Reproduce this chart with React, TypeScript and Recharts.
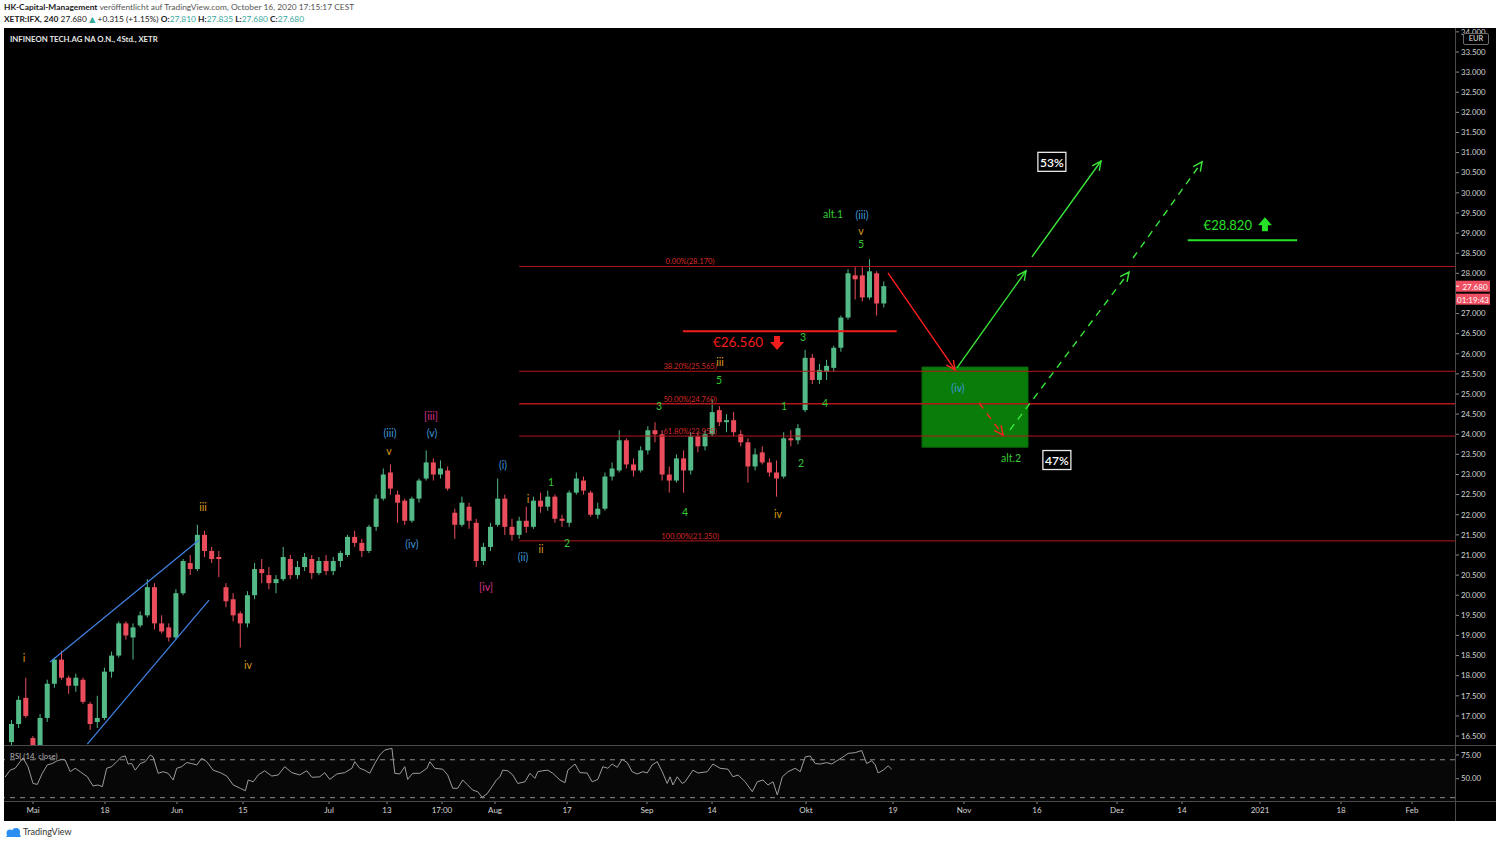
import React from 'react';
import {
  ComposedChart,
  LineChart,
  Line,
  Bar,
  XAxis,
  YAxis,
  ReferenceLine,
  ReferenceArea,
  ReferenceDot,
} from 'recharts';

const FONT = 'Lato, "Open Sans", "DejaVu Sans", sans-serif';
const UP = '#53b987';
const DOWN = '#eb4d5c';
const AXIS_TEXT = '#d4d4d4';
const SEP = '#4a4a4a';

// ---------- candles (one per trading day, index 0 = 4 May 2020) ----------
const candleDays = [
  -3, -2, -1, 0, 1, 2, 3, 4, 5, 6,
  7, 8, 9, 10, 11, 12, 13, 14, 15, 16,
  17, 18, 19, 20, 21, 22, 23, 24, 25, 26,
  27, 28, 29, 30, 31, 32, 33, 34, 35, 36,
  37, 38, 39, 40, 41, 42, 43, 44, 45, 46,
  47, 48, 49, 50, 51, 52, 53, 54, 55, 56,
  57, 58, 59, 60, 61, 62, 63, 64, 65, 66,
  67, 68, 69, 70, 71, 72, 73, 74, 75, 76,
  77, 78, 79, 80, 81, 82, 83, 84, 85, 86,
  87, 88, 89, 90, 91, 92, 93, 94, 95, 96,
  97, 98, 99, 100, 101, 102, 103, 104, 105, 106,
  107, 108, 109, 110, 111, 112, 113, 114, 115, 116,
  117, 118, 119,
];
const opens = [
  16.35, 16.8, 17.45, 16.45, 16.15, 16.95, 17.8, 18.4, 17.95, 17.75,
  17.9, 17.3, 16.85, 16.95, 18.1, 18.5, 19.3, 18.95, 19.25, 19.5,
  20.2, 19.3, 19.2, 18.95, 20.05, 20.8, 20.65, 21.5, 21.1, 20.95,
  20.2, 19.9, 19.55, 19.3, 20.0, 20.65, 20.5, 20.3, 20.4, 20.9,
  20.5, 20.7, 20.9, 20.55, 20.85, 20.6, 20.85, 21.0, 21.45, 21.3,
  21.1, 21.7, 22.4, 23.05, 22.5, 22.35, 21.85, 22.4, 22.9, 23.3,
  23.0, 23.1, 22.05, 21.75, 22.2, 21.8, 20.85, 21.2, 21.75, 22.4,
  21.7, 21.5, 21.85, 21.7, 22.35, 22.2, 22.45, 21.9, 21.8, 22.55,
  22.85, 22.55, 22.0, 22.15, 22.95, 23.1, 23.85, 23.25, 23.1, 23.6,
  24.1, 24.0, 23.0, 22.85, 23.4, 23.1, 23.95, 23.7, 24.0, 24.6,
  24.3, 24.35, 24.0, 23.8, 23.2, 23.55, 23.3, 23.05, 22.95, 23.9,
  23.85, 24.6, 25.9, 25.35, 25.55, 25.65, 26.15, 26.9, 27.95, 27.95,
  27.4, 28.0, 27.25,
];
const highs = [
  16.9, 17.5, 17.95, 16.5, 17.05, 17.9, 18.45, 18.62, 18.0, 18.05,
  17.95, 17.35, 17.5, 18.2, 18.6, 19.35, 19.35, 19.3, 19.6, 20.4,
  20.3, 19.5, 19.3, 20.15, 20.9, 21.0, 21.75, 21.6, 21.2, 21.1,
  20.3, 20.05, 19.6, 20.1, 20.8, 20.9, 20.7, 20.5, 21.2, 21.0,
  20.85, 21.05, 21.0, 20.95, 21.0, 20.95, 21.1, 21.5, 21.6, 21.4,
  21.75, 22.5, 23.15, 23.25, 22.6, 22.4, 22.45, 22.9, 23.6, 23.4,
  23.35, 23.2, 22.15, 22.45, 22.3, 21.9, 21.3, 21.8, 22.9, 22.5,
  21.9, 21.95, 22.2, 22.45, 22.55, 22.6, 22.5, 22.0, 22.6, 23.05,
  22.95, 22.6, 22.3, 23.05, 23.3, 24.1, 23.9, 23.4, 23.7, 24.2,
  24.3, 24.1, 23.2, 23.5, 23.6, 24.05, 24.05, 24.1, 24.87, 24.7,
  24.5, 24.55, 24.1, 23.9, 23.65, 23.7, 23.4, 23.35, 24.05, 24.1,
  24.25, 26.1, 26.0, 25.75, 25.85, 26.2, 26.95, 28.1, 28.15, 28.15,
  28.35, 28.05, 27.8,
];
const lows = [
  16.25, 16.7, 16.95, 15.9, 16.0, 16.85, 17.7, 17.9, 17.55, 17.6,
  17.3, 16.65, 16.7, 16.9, 17.95, 18.45, 18.9, 18.4, 19.2, 19.45,
  19.15, 19.05, 18.85, 18.9, 20.0, 20.5, 20.6, 20.95, 20.8, 20.45,
  19.7, 19.35, 18.7, 19.2, 19.9, 20.3, 20.15, 20.05, 20.35, 20.4,
  20.4, 20.6, 20.4, 20.5, 20.5, 20.5, 20.7, 20.95, 21.2, 20.95,
  21.05, 21.6, 22.35, 22.5, 21.8, 21.75, 21.8, 22.3, 22.85, 22.85,
  22.9, 22.6, 21.4, 21.7, 21.65, 20.7, 20.75, 21.1, 21.7, 21.5,
  21.35, 21.4, 21.55, 21.65, 22.05, 22.1, 21.8, 21.7, 21.7, 22.5,
  22.5, 21.95, 21.9, 22.1, 22.85, 23.05, 23.15, 22.95, 23.05, 23.5,
  23.8, 22.85, 22.55, 22.8, 22.55, 23.0, 23.55, 23.6, 23.95, 24.2,
  24.05, 23.95, 23.7, 22.8, 23.1, 23.25, 22.95, 22.45, 22.9, 23.7,
  23.75, 24.55, 25.25, 25.25, 25.35, 25.55, 26.05, 26.85, 27.35, 27.3,
  27.35, 26.95, 27.15,
];
const closes = [
  16.8, 17.4, 17.0, 16.1, 16.95, 17.8, 18.4, 17.95, 17.75, 17.95,
  17.35, 16.8, 16.95, 18.1, 18.5, 19.3, 19.0, 19.2, 19.5, 20.2,
  19.3, 19.1, 18.95, 20.05, 20.85, 20.65, 21.5, 21.1, 20.9, 20.9,
  19.85, 19.5, 19.3, 20.0, 20.65, 20.55, 20.3, 20.4, 20.95, 20.5,
  20.7, 20.95, 20.55, 20.85, 20.6, 20.85, 21.05, 21.45, 21.3, 21.1,
  21.7, 22.4, 23.0, 22.65, 22.3, 21.85, 22.4, 22.85, 23.3, 23.0,
  23.15, 22.65, 21.75, 22.3, 21.85, 20.85, 21.2, 21.7, 22.4, 21.7,
  21.5, 21.85, 21.7, 22.35, 22.2, 22.45, 21.9, 21.85, 22.55, 22.9,
  22.6, 22.0, 22.15, 22.95, 23.15, 23.85, 23.25, 23.1, 23.6, 24.1,
  24.0, 23.0, 22.85, 23.4, 23.1, 23.95, 23.7, 24.0, 24.55, 24.3,
  24.35, 24.05, 23.8, 23.2, 23.5, 23.3, 23.05, 22.9, 23.9, 23.85,
  24.15, 25.9, 25.35, 25.6, 25.7, 26.15, 26.9, 28.0, 27.85, 27.4,
  28.05, 27.25, 27.68,
];

// ---------- RSI (14, close) ----------
const rsiDays = [
  -3.9, -3.2, -2.5, -1.8, -1.4, -0.7, 0, 0.6, 1.3, 2.0, 2.7, 3.4, 4.1, 4.5, 5.2, 5.9, 6.6, 7.6, 8.4, 9.1,
  9.7, 10.3, 11.0, 11.7, 12.4, 12.9, 13.3, 13.8, 14.3, 15.0, 15.7, 16.4, 16.8, 17.5, 18.2, 18.9, 19.6, 20.1, 20.8, 21.5,
  22.2, 22.9, 23.6, 24.3, 25.2, 26.2, 27.1, 28.0, 29.0, 29.7, 30.1, 30.8, 31.5, 32.4, 33.4, 34.3, 35.2, 36.2, 37.3, 38.3,
  39.0, 40.1, 40.8, 41.5, 42.5, 43.6, 44.6, 45.0, 45.7, 46.4, 47.1, 47.8, 48.5, 49.2, 50.2, 50.6, 51.3, 52.0, 52.4, 53.1,
  54.1, 55.1, 55.5, 56.2, 57.3, 58.0, 58.7, 59.4, 60.1, 60.8, 61.5, 62.2, 62.8, 63.5, 64.2, 64.8, 65.3, 65.7, 66.4, 67.1,
  67.8, 68.8, 69.5, 70.2, 70.6, 71.3, 72.0, 72.7, 73.7, 74.4, 74.8, 75.8, 76.5, 77.5, 78.2, 79.0, 79.7, 80.4, 81.0, 81.7,
  82.4, 83.1, 83.8, 84.5, 85.3, 85.9, 86.6, 87.3, 88.0, 88.7, 89.1, 89.5, 90.1, 90.8, 91.2, 92.3, 93.0, 94.3, 95.1, 96.1,
  97.2, 97.9, 98.6, 99.6, 100.6, 101.3, 102.1, 102.8, 103.5, 104.1, 104.8, 105.6, 106.6, 107.3, 108.0, 108.7, 109.4, 110.1, 111.0, 111.7,
  112.6, 113.3, 114.0, 115.0, 115.9, 116.6, 117.3, 117.8, 118.2, 118.9, 119.6, 120.1,
];
const rsiValues = [
  51.8, 59, 61, 68, 72, 62.7, 45, 44, 55.7, 64.5, 66, 69, 70.5, 69.7, 57.4, 61, 57.4, 52, 42.3, 43.4,
  41.6, 61, 62.7, 68, 73, 74, 65.5, 66, 59, 66, 68, 75, 73, 55.7, 57.4, 55.7, 48.6, 61, 62.7, 67,
  66, 64.5, 71.5, 68, 59, 56.4, 52.8, 43.4, 39.9, 37.3, 48.6, 46.8, 54, 58.4, 52.8, 54, 62.7, 56.4, 54, 58.4,
  51.5, 52, 56.4, 49.3, 55, 56.4, 61, 68, 61, 59, 55.7, 66, 75, 80.3, 82, 55.7, 55, 62.7, 49.3, 55.7,
  55.7, 61, 68, 61, 60, 54, 39.9, 39.9, 48.6, 43.4, 38, 36.3, 30.4, 34, 41.6, 48.6, 52, 59, 58.4, 54,
  45, 46.8, 55.7, 50.4, 57.4, 58.4, 59, 55.7, 48.6, 45.8, 59, 65.5, 56.4, 56, 46.8, 49.3, 62.7, 61, 65.5, 62,
  70.5, 67, 57.4, 55, 57.4, 56, 64.5, 68, 57.4, 45, 52, 43.4, 52, 45, 46.8, 59, 56, 57.4, 65.5, 61,
  60, 52, 54, 46.8, 36.3, 46.8, 48.6, 43.4, 46.8, 32.8, 52, 57.4, 61, 57.4, 73, 74, 66, 65.5, 67, 65.5,
  69.7, 73, 76.7, 77.5, 79.7, 66, 69, 64.5, 56, 59, 63.6, 60,
];

// ---------- axes ----------
const xTickDays = [0, 10.07, 20.14, 29.37, 41.4, 49.51, 57.2, 64.62, 74.69, 85.87, 94.97, 108.11, 120.28, 130.21, 140.42, 151.61, 160.7, 171.61, 182.94, 192.87];
const xTickLabels = ['Mai', '18', 'Jun', '15', 'Jul', '13', '17:00', 'Aug', '17', 'Sep', '14', 'Okt', '19', 'Nov', '16', 'Dez', '14', '2021', '18', 'Feb'];
const priceTicks = [16.5, 17, 17.5, 18, 18.5, 19, 19.5, 20, 20.5, 21, 21.5, 22, 22.5, 23, 23.5, 24, 24.5, 25, 25.5, 26, 26.5, 27, 28, 28.5, 29, 29.5, 30, 30.5, 31, 31.5, 32, 32.5, 33, 33.5, 34];
const rsiTicks = [50, 75];
const X_DOMAIN: [number, number] = [-4.056, 198.88];
const PRICE_DOMAIN: [number, number] = [16.278, 34.096];
const RSI_DOMAIN: [number, number] = [26.5, 84.5];

// ---------- Fibonacci retracement ----------
const fibLevels = [28.17, 25.565, 24.76, 23.955, 21.35];
const fibLabels = ['0.00%(28.170)', '38.20%(25.565)', '50.00%(24.760)', '61.80%(23.955)', '100.00%(21.350)'];
const fibStart = 68;
const fibLabelDay = 91.9;

// ---------- wave labels ----------
const COLORS: Record<string, string> = { o: '#dc9a1e', b: '#3e96da', m: '#d9308c', g: '#35c935' };
const waveTexts = ['i', 'iii', 'iv', 'v', '(iii)', '(iv)', '[iii]', '(v)', '(i)', '[iv]', '(ii)', 'i', 'ii', '1', '2', '3', '4', '5', 'iii', '1', 'iv', '2', '4', '3', 'alt.1', '(iii)', 'v', '5', '(iv)', 'alt.2'];
const waveDays = [-1.26, 23.78, 30.07, 49.79, 49.93, 53.0, 55.66, 55.8, 65.73, 63.36, 68.53, 69.23, 71.05, 72.45, 74.69, 87.55, 91.19, 95.94, 96.08, 105.03, 104.2, 107.41, 110.77, 107.69, 111.89, 115.94, 115.8, 115.8, 129.37, 136.78];
const wavePrices = [18.44, 22.19, 18.27, 23.58, 24.03, 21.27, 24.45, 24.03, 23.24, 20.2, 20.95, 22.39, 21.15, 22.81, 21.3, 24.7, 22.07, 25.35, 25.8, 24.7, 22.02, 23.29, 24.78, 26.42, 29.47, 29.45, 29.05, 28.73, 25.15, 23.41];
const waveKinds = ['o', 'o', 'o', 'o', 'b', 'b', 'm', 'b', 'b', 'm', 'b', 'o', 'o', 'g', 'g', 'g', 'g', 'g', 'o', 'g', 'o', 'g', 'g', 'g', 'g', 'b', 'o', 'g', 'b', 'g'];

// ---------- drawings ----------
const channelLines = [
  { from: [2.38, 18.34], to: [23.22, 21.37] },
  { from: [7.6, 16.3], to: [24.62, 19.88] },
];
const arrows = [
  { from: [119.58, 28.01], to: [128.95, 25.6], color: '#ff2020', dashed: false },
  { from: [129.23, 25.65], to: [138.88, 28.06], color: '#39e639', dashed: false },
  { from: [139.72, 28.41], to: [149.37, 30.79], color: '#39e639', dashed: false },
  { from: [132.31, 24.78], to: [135.66, 23.98], color: '#ff2020', dashed: true },
  { from: [136.64, 24.11], to: [153.29, 28.03], color: '#39e639', dashed: true },
  { from: [153.85, 28.38], to: [163.5, 30.77], color: '#39e639', dashed: true },
];
const stopLevel = 26.56;
const stopSpan = [90.9, 120.8];
const targetLevel = 28.82;
const targetSpan = [161.5, 176.8];
const zone = { x1: 124.34, x2: 139.16, y1: 23.68, y2: 25.67 };
const lastClose = 27.68;

const candles = candleDays.map((i, k) => ({ i, o: opens[k], h: highs[k], l: lows[k], c: closes[k] }));
const rsiData = rsiDays.map((i, k) => ({ i, v: rsiValues[k] }));

const Candle = (props: any) => {
  const { x, y, width, height, payload } = props;
  if (!payload || x == null || y == null) return null;
  const top = Math.min(y, y + height);
  const h = Math.abs(height);
  const range = payload.h - payload.l;
  const k = range > 0 ? h / range : 0;
  const yO = top + (payload.h - payload.o) * k;
  const yC = top + (payload.h - payload.c) * k;
  const color = payload.c >= payload.o ? UP : DOWN;
  const cx = x + width / 2;
  const bodyTop = Math.min(yO, yC);
  const bodyH = Math.max(1, Math.abs(yC - yO));
  return (
    <g>
      <line x1={cx} x2={cx} y1={top} y2={top + h} stroke={color} strokeWidth={1} />
      <rect x={x} y={bodyTop} width={width} height={bodyH} fill={color} />
    </g>
  );
};

const textShape = (text: string, color: string, size: number, weight: number = 400, dy = 0) => (p: any) => (
  <text x={p.cx} y={p.cy + dy} fill={color} fontSize={size} fontWeight={weight} textAnchor="middle" dominantBaseline="central" fontFamily={FONT}>
    {text}
  </text>
);

const arrowShape = (color: string, dashed: boolean) => (p: any) => {
  const { x1, y1, x2, y2 } = p;
  if ([x1, y1, x2, y2].some((v) => v == null || isNaN(v))) return <g />;
  const ang = Math.atan2(y2 - y1, x2 - x1);
  const L = 10;
  const a = Math.PI / 7;
  const hx1 = x2 - L * Math.cos(ang - a);
  const hy1 = y2 - L * Math.sin(ang - a);
  const hx2 = x2 - L * Math.cos(ang + a);
  const hy2 = y2 - L * Math.sin(ang + a);
  return (
    <g>
      <line x1={x1} y1={y1} x2={x2} y2={y2} stroke={color} strokeWidth={1.4} strokeDasharray={dashed ? '7 6' : undefined} />
      <polyline points={`${hx1},${hy1} ${x2},${y2} ${hx2},${hy2}`} fill="none" stroke={color} strokeWidth={1.4} />
    </g>
  );
};

const plainLine = (color: string, w: number) => (p: any) => {
  const { x1, y1, x2, y2 } = p;
  if ([x1, y1, x2, y2].some((v) => v == null || isNaN(v))) return <g />;
  return <line x1={x1} y1={y1} x2={x2} y2={y2} stroke={color} strokeWidth={w} />;
};

const pctBox = (text: string) => (p: any) => (
  <g>
    <rect x={p.cx - 14} y={p.cy - 9.5} width={28} height={19} fill="#000" stroke="#e8e8e8" strokeWidth={1.3} />
    <text x={p.cx} y={p.cy + 0.5} fill="#fff" fontSize={12} fontWeight={600} textAnchor="middle" dominantBaseline="central" fontFamily={FONT}>
      {text}
    </text>
  </g>
);

const blockArrow = (color: string, down: boolean) => (p: any) => {
  const s = down ? 1 : -1;
  const { cx, cy } = p;
  const pts = [
    [cx - 3, cy - 7 * s],
    [cx + 3, cy - 7 * s],
    [cx + 3, cy - 1 * s],
    [cx + 7, cy - 1 * s],
    [cx, cy + 7 * s],
    [cx - 7, cy - 1 * s],
    [cx - 3, cy - 1 * s],
  ]
    .map((q) => q.join(','))
    .join(' ');
  return <polygon points={pts} fill={color} />;
};

const priceTag = (p: any) => (
  <g>
    <rect x={p.cx} y={p.cy - 5.5} width={35} height={11} fill="#ef4f62" />
    <line x1={p.cx} x2={p.cx + 4} y1={p.cy} y2={p.cy} stroke="#fff" />
    <text x={p.cx + 20} y={p.cy + 0.5} fill="#fff" fontSize={8} textAnchor="middle" dominantBaseline="central" fontFamily={FONT}>
      {lastClose.toFixed(3)}
    </text>
    <rect x={p.cx} y={p.cy + 7.5} width={35} height={11} fill="#ef4f62" />
    <text x={p.cx + 18} y={p.cy + 13.5} fill="#fff" fontSize={8} textAnchor="middle" dominantBaseline="central" fontFamily={FONT}>
      01:19:43
    </text>
  </g>
);

const fmtX = (v: number) => {
  const k = xTickDays.indexOf(v);
  return k >= 0 ? xTickLabels[k] : '';
};

const teal = '#36a99d';

export default function App() {
  return (
    <div style={{ position: 'absolute', left: 0, top: 0, width: 1500, height: 845, background: '#fff', overflow: 'hidden', fontFamily: FONT }}>
      {/* header */}
      <div style={{ position: 'absolute', left: 4, top: 1, fontSize: 8.4, lineHeight: '12px', color: '#555', whiteSpace: 'nowrap' }}>
        <span style={{ fontWeight: 700, color: '#222' }}>HK-Capital-Management</span> veröffentlicht auf TradingView.com, October 16, 2020 17:15:17 CEST
      </div>
      <div style={{ position: 'absolute', left: 4, top: 13, fontSize: 8.4, lineHeight: '12px', color: '#222', whiteSpace: 'nowrap' }}>
        <span style={{ fontWeight: 700 }}>XETR:IFX, 240</span> 27.680 <span style={{ color: teal }}>▲</span> +0.315 (+1.15%){' '}
        <b>O:</b><span style={{ color: teal }}>27.810</span> <b>H:</b><span style={{ color: teal }}>27.835</span>{' '}
        <b>L:</b><span style={{ color: teal }}>27.680</span> <b>C:</b><span style={{ color: teal }}>27.680</span>
      </div>

      {/* chart background */}
      <div style={{ position: 'absolute', left: 4, top: 28, width: 1492, height: 793, background: '#000' }} />
      <div style={{ position: 'absolute', left: 4, top: 746, width: 1451, height: 55, background: '#070707' }} />

      {/* price pane */}
      <div style={{ position: 'absolute', left: 4, top: 28 }}>
        <ComposedChart width={1492} height={717} data={candles} margin={{ top: 0, right: 0, bottom: 0, left: 0 }}>
          <XAxis type="number" dataKey="i" domain={X_DOMAIN} allowDataOverflow hide />
          <YAxis
            orientation="right"
            width={41}
            type="number"
            domain={PRICE_DOMAIN}
            allowDataOverflow
            ticks={priceTicks}
            interval={0}
            tickFormatter={(v: number) => v.toFixed(3)}
            axisLine={false}
            tickLine={{ stroke: '#8a8a8a' }}
            tickSize={4}
            tickMargin={2}
            tick={{ fill: AXIS_TEXT, fontSize: 7.8, fontFamily: FONT }}
          />
          <ReferenceArea x1={zone.x1} x2={zone.x2} y1={zone.y1} y2={zone.y2} fill="#0a7c0a" fillOpacity={1} stroke="#0d6a0d" ifOverflow="visible" />
          {fibLevels.map((lv, k) => (
            <ReferenceLine
              key={'fib' + k}
              segment={[{ x: fibStart, y: lv }, { x: X_DOMAIN[1], y: lv }]}
              stroke="#b3161c"
              strokeWidth={k === 2 ? 1.6 : 1}
              ifOverflow="visible"
            />
          ))}
          {fibLevels.map((lv, k) => (
            <ReferenceDot key={'fibl' + k} x={fibLabelDay} y={lv} r={0} ifOverflow="visible" shape={textShape(fibLabels[k], '#d42828', 7.6, 400, -5)} />
          ))}
          {channelLines.map((c, k) => (
            <ReferenceLine
              key={'ch' + k}
              segment={[{ x: c.from[0], y: c.from[1] }, { x: c.to[0], y: c.to[1] }]}
              shape={plainLine('#3f7fe0', 1.3)}
              ifOverflow="visible"
            />
          ))}
          <Bar dataKey={(d: any) => [d.l, d.h]} barSize={5} shape={Candle} isAnimationActive={false} />
          <ReferenceLine
            segment={[{ x: stopSpan[0], y: stopLevel }, { x: stopSpan[1], y: stopLevel }]}
            shape={plainLine('#f01c1c', 2)}
            ifOverflow="visible"
          />
          <ReferenceLine
            segment={[{ x: targetSpan[0], y: targetLevel }, { x: targetSpan[1], y: targetLevel }]}
            shape={plainLine('#27e027', 2)}
            ifOverflow="visible"
          />
          {arrows.map((a, k) => (
            <ReferenceLine
              key={'ar' + k}
              segment={[{ x: a.from[0], y: a.from[1] }, { x: a.to[0], y: a.to[1] }]}
              shape={arrowShape(a.color, a.dashed)}
              ifOverflow="visible"
            />
          ))}
          {waveTexts.map((t, k) => (
            <ReferenceDot key={'w' + k} x={waveDays[k]} y={wavePrices[k]} r={0} ifOverflow="visible" shape={textShape(t, COLORS[waveKinds[k]], 10.5)} />
          ))}
          <ReferenceDot x={98.6} y={26.29} r={0} ifOverflow="visible" shape={textShape('€26.560', '#f21d1d', 13.5)} />
          <ReferenceDot x={104.06} y={26.27} r={0} ifOverflow="visible" shape={blockArrow('#f21d1d', true)} />
          <ReferenceDot x={167.1} y={29.2} r={0} ifOverflow="visible" shape={textShape('€28.820', '#27e027', 13)} />
          <ReferenceDot x={172.3} y={29.22} r={0} ifOverflow="visible" shape={blockArrow('#27e027', false)} />
          <ReferenceDot x={142.5} y={30.77} r={0} ifOverflow="visible" shape={pctBox('53%')} />
          <ReferenceDot x={143.2} y={23.36} r={0} ifOverflow="visible" shape={pctBox('47%')} />
          <ReferenceDot x={X_DOMAIN[1]} y={lastClose} r={0} ifOverflow="visible" shape={priceTag} />
        </ComposedChart>
      </div>

      {/* RSI pane + time axis */}
      <div style={{ position: 'absolute', left: 4, top: 746 }}>
        <LineChart width={1492} height={75} data={rsiData} margin={{ top: 0, right: 0, bottom: 0, left: 0 }}>
          <XAxis
            type="number"
            dataKey="i"
            domain={X_DOMAIN}
            allowDataOverflow
            ticks={xTickDays}
            interval={0}
            tickFormatter={fmtX}
            height={20}
            axisLine={false}
            tickLine={{ stroke: '#8a8a8a' }}
            tickSize={3}
            tickMargin={3}
            tick={{ fill: AXIS_TEXT, fontSize: 8, fontFamily: FONT }}
          />
          <YAxis
            orientation="right"
            width={41}
            type="number"
            domain={RSI_DOMAIN}
            allowDataOverflow
            ticks={rsiTicks}
            interval={0}
            tickFormatter={(v: number) => v.toFixed(2)}
            axisLine={false}
            tickLine={{ stroke: '#8a8a8a' }}
            tickSize={4}
            tickMargin={2}
            tick={{ fill: AXIS_TEXT, fontSize: 7.8, fontFamily: FONT }}
          />
          <ReferenceLine y={70} stroke="#8c8c8c" strokeDasharray="5 5" />
          <ReferenceLine y={30} stroke="#8c8c8c" strokeDasharray="5 5" />
          <Line type="linear" dataKey="v" stroke="#9c9c9c" strokeWidth={1} dot={false} isAnimationActive={false} />
        </LineChart>
      </div>

      {/* separators */}
      <div style={{ position: 'absolute', left: 4, top: 745, width: 1492, height: 1, background: SEP }} />
      <div style={{ position: 'absolute', left: 4, top: 801, width: 1492, height: 1, background: SEP }} />
      <div style={{ position: 'absolute', left: 1455, top: 28, width: 1, height: 793, background: SEP }} />

      {/* pane texts */}
      <div style={{ position: 'absolute', left: 10, top: 34, fontSize: 7.8, fontWeight: 700, color: '#e6e6e6', whiteSpace: 'nowrap', lineHeight: '11px' }}>
        INFINEON TECH.AG NA O.N., 4Std., XETR
      </div>
      <div style={{ position: 'absolute', left: 10, top: 751, fontSize: 7.8, color: '#b0b0b0', whiteSpace: 'nowrap', lineHeight: '11px' }}>
        RSI (14, close)
      </div>
      <div
        style={{
          position: 'absolute',
          left: 1463,
          top: 33,
          width: 24,
          height: 10,
          border: '1px solid #6a6a6a',
          borderRadius: 2,
          background: '#000',
          color: '#e0e0e0',
          fontSize: 7.5,
          lineHeight: '10px',
          textAlign: 'center',
        }}
      >
        EUR
      </div>

      {/* footer */}
      <svg style={{ position: 'absolute', left: 4, top: 826 }} width={18} height={12}>
        <path d="M2 11 L6 5 L9 8 L13 2 L17 11 Z" fill="#2a8ff0" />
        <circle cx={6} cy={7} r={3.5} fill="#2a8ff0" />
        <circle cx={12} cy={6} r={4} fill="#2a8ff0" />
      </svg>
      <div style={{ position: 'absolute', left: 23, top: 826, fontSize: 9, color: '#333', lineHeight: '12px' }}>TradingView</div>
    </div>
  );
}
